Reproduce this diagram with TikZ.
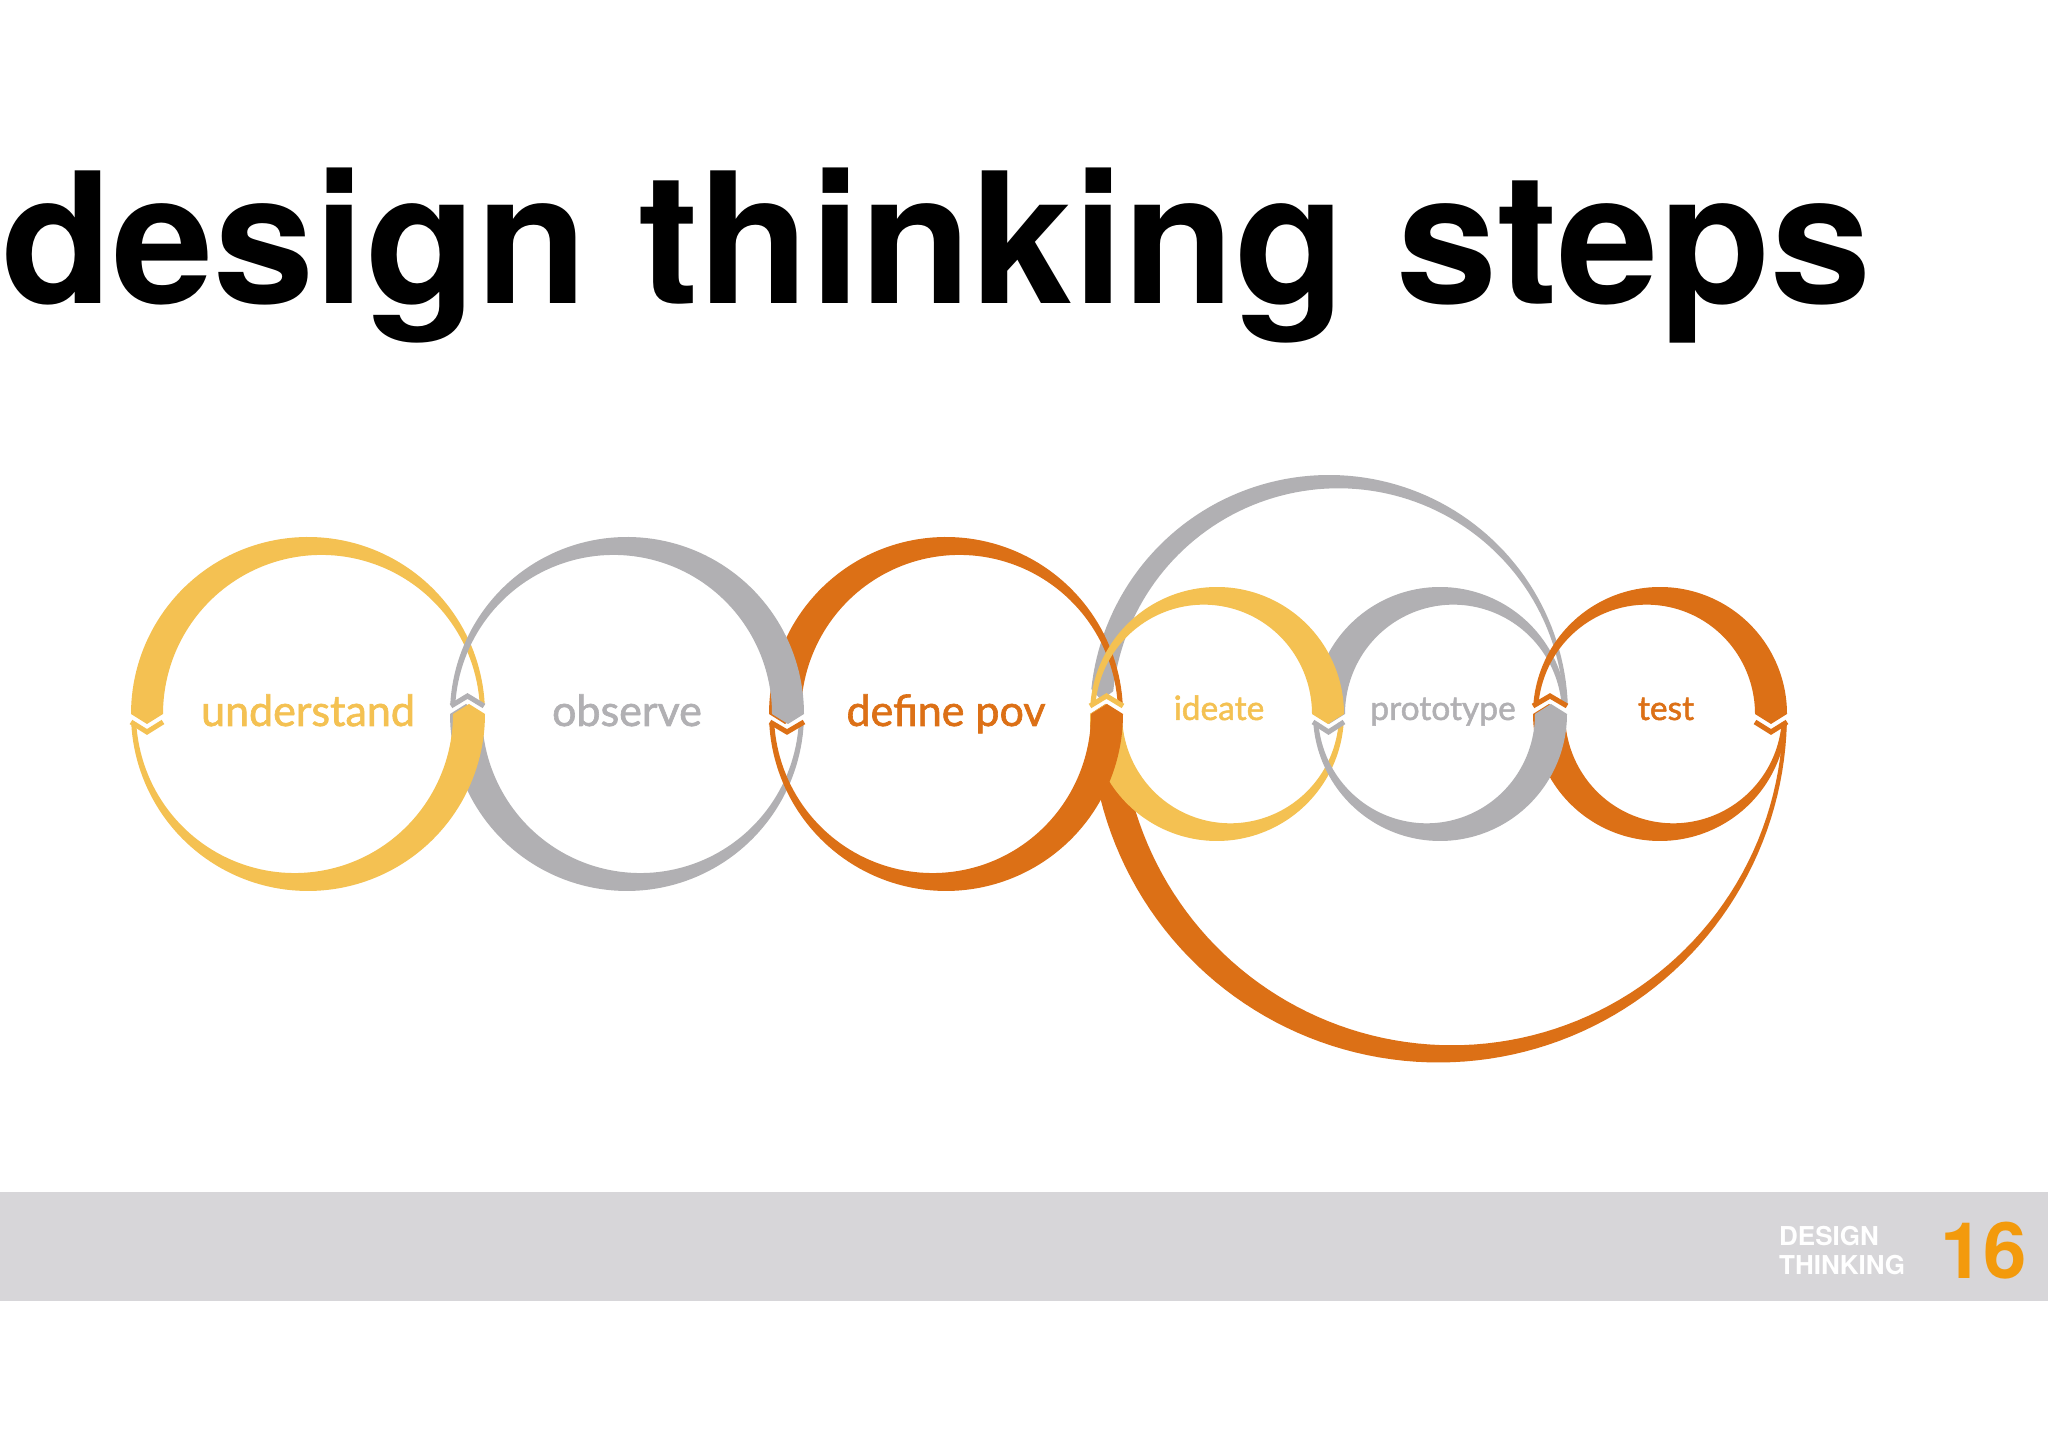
\documentclass[tikz,border=0pt]{standalone}
\usepackage{fontspec}
\newfontfamily\lato[FakeBold=1.5]{Lato}
\newfontfamily\heros{TeX Gyre Heros}
\definecolor{cY}{HTML}{F4C152}
\definecolor{cG}{HTML}{B1B0B3}
\definecolor{cO}{HTML}{DC7016}
\definecolor{cBar}{HTML}{D7D6D9}
\definecolor{cNum}{HTML}{F39A0C}
% tapered band: cx, cy, R, th-start, th-end, w-thin, w-thick, colour
\newcommand{\tband}[8]{%
  \pgfmathsetmacro{\bSg}{sign(#5-#4)}%
  \pgfmathsetmacro{\bThA}{#4+\bSg*9/#3*180/pi}%
  \pgfmathsetmacro{\bRm}{#3-#7/2}%
  \pgfmathsetmacro{\bTx}{#1+\bRm*cos(#5)-\bSg*10*sin(#5)}%
  \pgfmathsetmacro{\bTy}{#2+\bRm*sin(#5)+\bSg*10*cos(#5)}%
  \fill[#8] plot[domain=\bThA:#5, samples=90] ({#1+#3*cos(\x)},{#2+#3*sin(\x)})
    -- (\bTx,\bTy)
    -- plot[domain=#5:\bThA, samples=90] ({#1+(#3-(#6+(#7-#6)*(1-cos((\x-#4)/(#5-#4)*180))/2))*cos(\x)},{#2+(#3-(#6+(#7-#6)*(1-cos((\x-#4)/(#5-#4)*180))/2))*sin(\x)})
    -- cycle;}
% chevron notch: x1, x2, y0, direction(+1 up/-1 down), colour
\newcommand{\vnotch}[5]{%
  \pgfmathsetmacro{\vYa}{#3+#4*8}%
  \pgfmathsetmacro{\vYb}{#3+#4*18}%
  \pgfmathsetmacro{\vXm}{(#1+#2)/2}%
  \draw[#5, line width=5pt, miter limit=10] (#1,\vYa) -- (\vXm,\vYb) -- (#2,\vYa);}
\tikzset{
  biglabel/.style={inner sep=0, anchor=base, font=\lato\fontsize{43}{43}\selectfont},
  smalllabel/.style={inner sep=0, anchor=base, font=\lato\fontsize{33.5}{33.5}\selectfont},
  footlabel/.style={inner sep=0, anchor=base west, text=white, font=\heros\bfseries\fontsize{26}{26}\selectfont}
}
\begin{document}
\begin{tikzpicture}[x=1pt,y=1pt]
\useasboundingbox (0,0) rectangle (2048,1447);
\fill[white] (0,0) rectangle (2048,1447);
% title
\node[anchor=base west, inner sep=0, font=\heros\bfseries\fontsize{182}{182}\selectfont] (title) at (1,1143) {design thinking steps};
% footer
\fill[cBar] (0,146) rectangle (2048,255);
\node[footlabel] (foot1) at (1779,201) {DESIGN};
\node[footlabel] (foot2) at (1779,172) {THINKING};
\node[inner sep=0, anchor=base west, text=cNum, font=\heros\bfseries\fontsize{78}{78}\selectfont] (pagenum) at (1940,168) {16};
% ---- loops (under) ----
\tband{1329}{733}{239}{0}{174}{4}{22}{cG}          % big grey arc
\tband{1438.5}{733}{348.5}{0}{-180}{4}{31}{cO}     % big orange arc
\tband{308}{733}{177}{0}{180}{5}{32}{cY}           % understand upper
\tband{627}{733}{177}{0}{-180}{5}{32}{cG}          % observe lower
\tband{946}{733}{177}{0}{180}{5}{32}{cO}           % define upper
\tband{1217}{733}{127}{0}{-180}{5}{32}{cY}         % ideate lower
\tband{1440}{733}{127}{0}{180}{5}{32}{cG}          % prototype upper
\tband{1660}{733}{127}{0}{-180}{5}{32}{cO}         % test lower
% ---- main chain (over) ----
\tband{308}{733}{177}{180}{360}{5}{32}{cY}         % understand lower
\tband{627}{733}{177}{180}{0}{5}{32}{cG}           % observe upper
\tband{946}{733}{177}{180}{360}{5}{32}{cO}         % define lower
\tband{1217}{733}{127}{180}{0}{5}{32}{cY}          % ideate upper
\tband{1440}{733}{127}{180}{360}{5}{32}{cG}        % prototype lower
\tband{1660}{733}{127}{180}{0}{5}{32}{cO}          % test upper
% ---- notches ----
\vnotch{131}{163}{733}{-1}{cY}
\vnotch{451}{484}{733}{1}{cG}
\vnotch{770}{804}{733}{-1}{cO}
\vnotch{1090}{1123}{733}{1}{cY}
\vnotch{1313}{1344}{733}{-1}{cG}
\vnotch{1533}{1567}{733}{1}{cO}
\vnotch{1755}{1787}{733}{-1}{cO}
% ---- labels ----
\node[biglabel, text=cY] (understand) at (308,721) {understand};
\node[biglabel, text=cG] (observe) at (627,721) {observe};
\node[biglabel, text=cO] (define) at (946,721) {define pov};
\node[smalllabel, text=cY] (ideate) at (1219,727) {ideate};
\node[smalllabel, text=cG] (prototype) at (1443,727) {prototype};
\node[smalllabel, text=cO] (test) at (1666,727) {test};
\end{tikzpicture}
\end{document}
